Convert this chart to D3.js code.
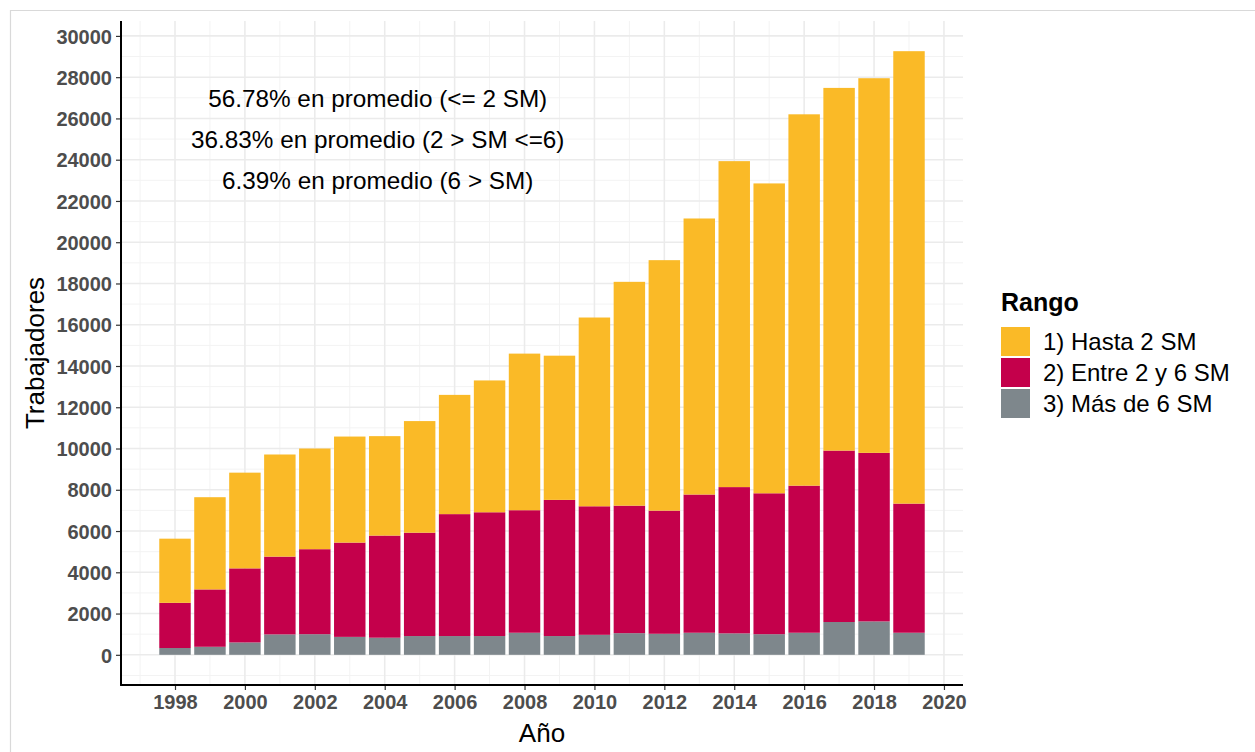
<!DOCTYPE html>
<html>
<head>
<meta charset="utf-8">
<script src="https://cdn.jsdelivr.net/npm/d3@7"></script>
<style>
  html, body { margin: 0; padding: 0; background: #ffffff; }
  svg { display: block; font-family: "Liberation Sans", Arial, sans-serif; }
</style>
</head>
<body>
<svg id="chart" width="1255" height="752"></svg>
<script>
// ---- data ----
const years = [1998,1999,2000,2001,2002,2003,2004,2005,2006,2007,2008,2009,2010,2011,2012,2013,2014,2015,2016,2017,2018,2019];
const hasta2 = [3110,4470,4640,4950,4880,5140,4820,5410,5780,6390,7590,6990,9150,10850,12140,13380,15800,15020,18000,17580,18160,21930];
const entre2y6 = [2190,2780,3590,3770,4120,4570,4950,5010,5910,6000,5940,6600,6230,6180,5970,6700,7090,6830,7130,8310,8170,6260];
const mas6 = [330,390,600,990,1000,870,830,910,910,910,1070,910,970,1050,1020,1070,1040,1000,1070,1590,1620,1070];
const seriesKeys = ["mas6", "entre", "hasta2"];
const legendLabels = ["1) Hasta 2 SM", "2) Entre 2 y 6 SM", "3) Más de 6 SM"];
const seriesColors = {hasta2: "#FABA27", entre: "#C4004B", mas6: "#7E878C"};
const yTicks = [0,2000,4000,6000,8000,10000,12000,14000,16000,18000,20000,22000,24000,26000,28000,30000];
const xTicks = [1998,2000,2002,2004,2006,2008,2010,2012,2014,2016,2018,2020];
const annotations = [
  "56.78% en promedio (<= 2 SM)",
  "36.83% en promedio (2 > SM <=6)",
  "6.39% en promedio (6 > SM)"
];
const annotationY = [27000, 25000, 23000];
const annotationX = 2003.8;

// ---- layout ----
const svg = d3.select("#chart");
const panel = {left: 121, right: 963, top: 21, bottom: 685};
const barWidthYears = 0.9;

const rows = years.map((yr, i) => ({year: yr, hasta2: hasta2[i], entre: entre2y6[i], mas6: mas6[i]}));
const stacked = d3.stack().keys(seriesKeys)(rows);

const totals = rows.map(r => r.hasta2 + r.entre + r.mas6);
const xMinData = d3.min(years) - barWidthYears / 2, xMaxData = d3.max(years) + barWidthYears / 2;
const xPad = (xMaxData - xMinData) * 0.05;
const x = d3.scaleLinear().domain([xMinData - xPad, xMaxData + xPad]).range([panel.left, panel.right]);
const yMaxData = d3.max(totals);
const yPad = yMaxData * 0.05;
const y = d3.scaleLinear().domain([-yPad, yMaxData + yPad]).range([panel.bottom, panel.top]);

// outer frame (viewer border)
svg.append("path").attr("d", "M10.5,752 L10.5,10.5 L1255,10.5")
  .attr("fill", "none").attr("stroke", "#d9d9d9").attr("stroke-width", 1.2);

// grid
const grid = svg.append("g");
const yMinor = d3.range(-1000, yMaxData + yPad, 2000);
const xMinor = d3.range(1997, 2021, 2);
grid.selectAll(".ymin").data(yMinor).enter().append("line")
  .attr("x1", panel.left).attr("x2", panel.right)
  .attr("y1", d => y(d)).attr("y2", d => y(d))
  .attr("stroke", "#f3f3f3").attr("stroke-width", 1);
grid.selectAll(".xmin").data(xMinor).enter().append("line")
  .attr("y1", panel.top).attr("y2", panel.bottom)
  .attr("x1", d => x(d)).attr("x2", d => x(d))
  .attr("stroke", "#f3f3f3").attr("stroke-width", 1);
grid.selectAll(".ymaj").data(yTicks).enter().append("line")
  .attr("x1", panel.left).attr("x2", panel.right)
  .attr("y1", d => y(d)).attr("y2", d => y(d))
  .attr("stroke", "#ebebeb").attr("stroke-width", 1.6);
grid.selectAll(".xmaj").data(xTicks).enter().append("line")
  .attr("y1", panel.top).attr("y2", panel.bottom)
  .attr("x1", d => x(d)).attr("x2", d => x(d))
  .attr("stroke", "#ebebeb").attr("stroke-width", 1.6);

// bars
const bw = x(barWidthYears) - x(0);
svg.append("g").selectAll("g").data(stacked).enter().append("g")
  .attr("fill", d => seriesColors[d.key])
  .selectAll("rect").data(d => d).enter().append("rect")
  .attr("x", d => x(d.data.year) - bw / 2)
  .attr("width", bw)
  .attr("y", d => y(d[1]))
  .attr("height", d => y(d[0]) - y(d[1]));

// axes
const yAxis = d3.axisLeft(y).tickValues(yTicks).tickSize(5).tickPadding(4).tickFormat(d3.format("d"));
const xAxis = d3.axisBottom(x).tickValues(xTicks).tickSize(5).tickPadding(4).tickFormat(d3.format("d"));
const gy = svg.append("g").attr("transform", `translate(${panel.left},0)`).call(yAxis);
const gx = svg.append("g").attr("transform", `translate(0,${panel.bottom})`).call(xAxis);
[gy, gx].forEach(g => {
  g.select(".domain").remove();
  g.selectAll(".tick line").attr("stroke", "#333333").attr("stroke-width", 1.2);
  g.selectAll(".tick text").attr("fill", "#4d4d4d").style("font-size", "20px").style("font-weight", "bold")
    .style("font-family", "'Liberation Sans', Arial, sans-serif");
});
gy.selectAll(".tick text").attr("dy", "0.36em");
gx.selectAll(".tick text").attr("dy", "0.76em");
svg.append("line").attr("x1", panel.left).attr("x2", panel.left).attr("y1", panel.top).attr("y2", panel.bottom + 0.8)
  .attr("stroke", "#000").attr("stroke-width", 2);
svg.append("line").attr("x1", panel.left - 0.8).attr("x2", panel.right).attr("y1", panel.bottom).attr("y2", panel.bottom)
  .attr("stroke", "#000").attr("stroke-width", 2);

// axis titles
svg.append("text").attr("x", (panel.left + panel.right) / 2).attr("y", 742)
  .attr("text-anchor", "middle").style("font-size", "26px").attr("fill", "#000").text("Año");
svg.append("text").attr("transform", `translate(44,${(panel.top + panel.bottom) / 2}) rotate(-90)`)
  .attr("text-anchor", "middle").style("font-size", "26px").attr("fill", "#000").text("Trabajadores");

// annotations
svg.append("g").selectAll("text").data(annotations).enter().append("text")
  .attr("x", x(annotationX)).attr("y", (d, i) => y(annotationY[i]))
  .attr("dy", "0.36em").attr("text-anchor", "middle")
  .style("font-size", "24.3px").attr("fill", "#000").text(d => d);

// legend
const lg = svg.append("g").attr("transform", "translate(1001,0)");
lg.append("text").attr("x", 0).attr("y", 311).style("font-size", "25px").style("font-weight", "bold")
  .attr("fill", "#000").text("Rango");
const legendKeys = ["hasta2", "entre", "mas6"];
legendKeys.forEach((k, i) => {
  const top = 327 + i * 31;
  lg.append("rect").attr("x", 0).attr("y", top).attr("width", 29).attr("height", 29).attr("fill", seriesColors[k]);
  lg.append("text").attr("x", 42).attr("y", top + 14.5).attr("dy", "0.36em")
    .style("font-size", "24px").attr("fill", "#000").text(legendLabels[i]);
});
</script>
</body>
</html>
